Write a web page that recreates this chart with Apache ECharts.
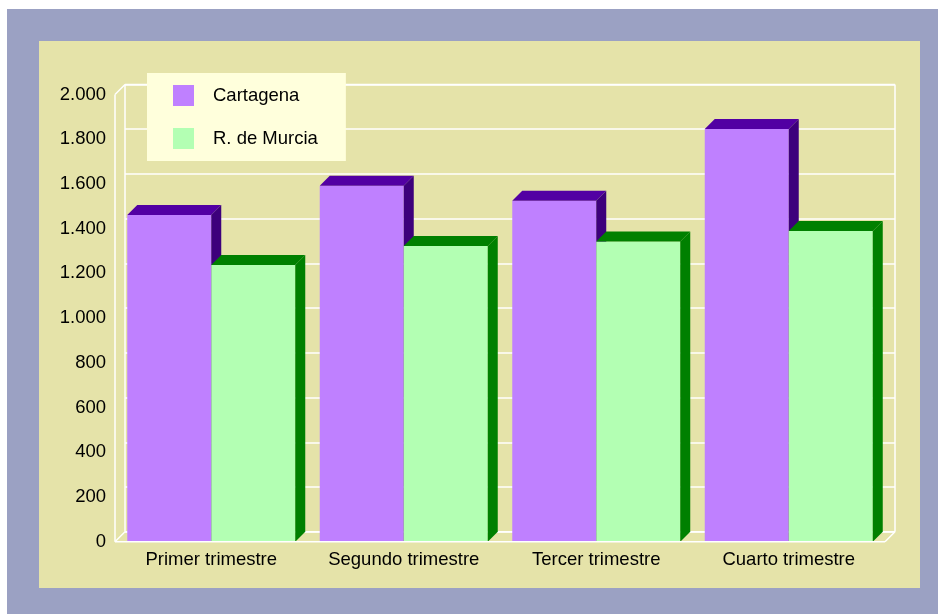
<!DOCTYPE html>
<html>
<head>
<meta charset="utf-8">
<script src="https://cdn.jsdelivr.net/npm/echarts@6/dist/echarts.min.js"></script>
<style>
html,body{margin:0;padding:0;background:#ffffff;}
#chart{width:938px;height:614px;}
</style>
</head>
<body>
<div id="chart"></div>
<script>
// ---- data ----
const categories = ['Primer trimestre', 'Segundo trimestre', 'Tercer trimestre', 'Cuarto trimestre'];
const seriesNames = ['Cartagena', 'R. de Murcia'];
const cartagena = [1461, 1592, 1525, 1846];
const murcia = [1237, 1322, 1343, 1390];
const yMin = 0, yMax = 2000, yStep = 200;

// ---- style ----
const FONT = "'Liberation Sans', Arial, sans-serif";
const D = 10;              // 3D depth in px
const BAR_RATIO = 84 / 192.5;
const colCart = {front: '#bf80ff', top: '#5200a3', side: '#3d007c'};
const colMur = {front: '#b3ffb3', top: '#008000', side: '#008000'};

function fmt(v) { return String(v).replace(/\B(?=(\d{3})+(?!\d))/g, '.'); }

function makeBar(leftSide, c) {
  return function (params, api) {
    const idx = api.value(0), v = api.value(1);
    const top = api.coord([idx, v]);
    const base = api.coord([idx, 0]);
    const band = api.size([1, 0])[0];
    const w = band * BAR_RATIO;
    const x0 = leftSide ? top[0] - w : top[0];
    const x1 = x0 + w;
    const yt = top[1], yb = base[1];
    return {
      type: 'group',
      children: [
        {type: 'rect', shape: {x: x0, y: yt, width: w, height: yb - yt}, style: {fill: c.front}},
        {type: 'polygon', shape: {points: [[x0, yt], [x0 + D, yt - D], [x1 + D, yt - D], [x1, yt]]}, style: {fill: c.top}},
        {type: 'polygon', shape: {points: [[x1, yt], [x1 + D, yt - D], [x1 + D, yb - D], [x1, yb]]}, style: {fill: c.side}}
      ]
    };
  };
}

function frameBack(params, api) {
  const cs = params.coordSys;
  const L = cs.x, T = cs.y, R = cs.x + cs.width, B = cs.y + cs.height;
  const st = {stroke: '#ffffff', lineWidth: 1.5, fill: null};
  const seg = (a, b) => ({type: 'line', shape: {x1: a[0], y1: a[1], x2: b[0], y2: b[1]}, style: st});
  return {
    type: 'group',
    children: [
      seg([L, T], [L, B]),
      seg([L, T], [L + D, T - D]),
      seg([L + D, T - D], [L + D, B - D]),
      seg([L, B], [L + D, B - D]),
      seg([L + D, B - D], [R + D, B - D]),
      seg([R, B], [R + D, B - D]),
      seg([R + D, T - D], [R + D, B - D]),
      seg([L + D, T - D], [R + D, T - D])
    ]
  };
}
function frameFront(params, api) {
  const cs = params.coordSys;
  const L = cs.x, R = cs.x + cs.width, B = cs.y + cs.height;
  return {type: 'line', shape: {x1: L, y1: B, x2: R, y2: B}, style: {stroke: '#ffffff', lineWidth: 1.5}};
}

const chart = echarts.init(document.getElementById('chart'), null, {renderer: 'canvas'});
const option = {
  animation: false,
  textStyle: {fontFamily: FONT},
  graphic: [
    {type: 'rect', z: -10, shape: {x: 7, y: 9, width: 931, height: 605}, style: {fill: '#9ba1c3'}},
    {type: 'rect', z: -9, shape: {x: 39, y: 41, width: 881, height: 547}, style: {fill: '#e5e3a9'}}
  ],
  legend: {
    orient: 'vertical',
    left: 147, top: 73,
    itemWidth: 21, itemHeight: 21, itemGap: 22,
    padding: [12, 28, 12, 26],
    backgroundColor: '#ffffdc',
    icon: 'rect',
    data: seriesNames,
    textStyle: {fontFamily: FONT, fontSize: 18.5, color: '#000000', padding: [0, 0, 0, 14]}
  },
  grid: [
    {left: 115, right: 53, top: 94.5, bottom: 72.3},
    {left: 125, right: 43, top: 84.5, bottom: 82.3}
  ],
  xAxis: [
    {type: 'category', gridIndex: 0, data: categories, boundaryGap: true,
     axisLine: {show: false}, axisTick: {show: false},
     axisLabel: {interval: 0, hideOverlap: false, fontFamily: FONT, fontSize: 18.5, color: '#000000', margin: 9}},
    {type: 'category', gridIndex: 1, data: categories, show: false}
  ],
  yAxis: [
    {type: 'value', gridIndex: 0, min: yMin, max: yMax, interval: yStep,
     axisLine: {show: false}, axisTick: {show: false}, splitLine: {show: false},
     axisLabel: {fontFamily: FONT, fontSize: 18.5, color: '#000000', margin: 9, formatter: fmt}},
    {type: 'value', gridIndex: 1, min: yMin, max: yMax, interval: yStep,
     axisLine: {show: false}, axisTick: {show: false}, axisLabel: {show: false},
     splitLine: {show: true, lineStyle: {color: '#ffffff', width: 1.5}}}
  ],
  series: [
    {type: 'custom', name: '_frameBack', xAxisIndex: 0, yAxisIndex: 0, z: 1, silent: true,
     renderItem: frameBack, data: [[0, 0]]},
    {type: 'custom', name: seriesNames[0], xAxisIndex: 0, yAxisIndex: 0, z: 2,
     itemStyle: {color: colCart.front},
     renderItem: makeBar(true, colCart), encode: {x: 0, y: 1},
     data: categories.map((c, i) => [i, cartagena[i]])},
    {type: 'custom', name: seriesNames[1], xAxisIndex: 0, yAxisIndex: 0, z: 3,
     itemStyle: {color: colMur.front},
     renderItem: makeBar(false, colMur), encode: {x: 0, y: 1},
     data: categories.map((c, i) => [i, murcia[i]])},
    {type: 'custom', name: '_frameFront', xAxisIndex: 0, yAxisIndex: 0, z: 4, silent: true,
     renderItem: frameFront, data: [[0, 0]]}
  ]
};
chart.setOption(option);
</script>
</body>
</html>
